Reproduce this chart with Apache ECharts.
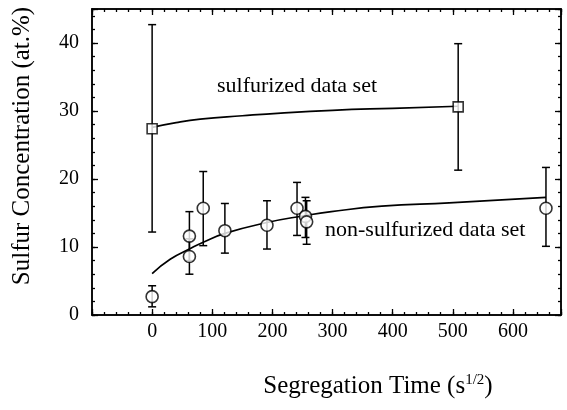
<!DOCTYPE html>
<html><head><meta charset="utf-8">
<script src="https://cdn.jsdelivr.net/npm/echarts@6/dist/echarts.min.js"></script>
<style>html,body{margin:0;padding:0;background:#fff}#c{width:567px;height:410px}</style>
</head><body><div id="c"></div>
<script>
// sulfurized data set
const sulfX = [0, 509];
const sulfY = [27.4, 30.6];
const sulfLo = [12.2, 21.3];
const sulfHi = [42.7, 39.9];
// non-sulfurized data set
const nonX = [0, 62, 62, 85, 121, 191, 241, 255, 257, 655];
const nonY = [2.7, 11.6, 8.6, 15.7, 12.4, 13.2, 15.7, 14.5, 13.7, 15.7];
const nonLo = [1.2, 8.0, 6.0, 10.2, 9.1, 9.7, 11.7, 11.4, 10.4, 10.1];
const nonHi = [4.3, 15.2, 11.2, 21.1, 16.4, 16.8, 19.5, 17.3, 16.8, 21.7];
// fitted curves
const sulfFitX = [0, 40, 80, 150, 214, 300, 400, 509];
const sulfFitY = [27.6, 28.3, 28.8, 29.3, 29.7, 30.1, 30.4, 30.7];
const nonFitX = [0, 30, 62, 85, 121, 191, 253, 298, 382, 494, 655];
const nonFitY = [6.1, 8.2, 9.7, 10.7, 12.0, 13.6, 14.6, 15.2, 16.0, 16.5, 17.3];
// axis ticks
const xTickLabels = [0, 100, 200, 300, 400, 500, 600];
const yTickLabels = [0, 10, 20, 30, 40];

const FONT = '"Liberation Serif","Times New Roman",serif';
const XMIN = -100, XMAX = 680, YMIN = 0, YMAX = 45;

function zip(a, b) { return a.map((v, i) => [v, b[i]]); }

function mkX(pos, interval, len, labels) {
  return {
    type: 'value', position: pos, min: XMIN, max: XMAX, interval: interval,
    axisLine: { show: true, onZero: false, lineStyle: { color: '#000', width: 1.5 } },
    axisTick: { show: true, inside: true, length: len, lineStyle: { color: '#000', width: 1.3 } },
    axisLabel: labels ? {
      show: true, color: '#000', fontFamily: FONT, fontSize: 20, margin: 7,
      formatter: v => xTickLabels.indexOf(v) >= 0 ? String(v) : ''
    } : { show: false },
    splitLine: { show: false }
  };
}
function mkY(pos, interval, len, labels) {
  return {
    type: 'value', position: pos, min: YMIN, max: YMAX, interval: interval,
    axisLine: { show: true, onZero: false, lineStyle: { color: '#000', width: 1.5 } },
    axisTick: { show: true, inside: true, length: len, lineStyle: { color: '#000', width: 1.3 } },
    axisLabel: labels ? {
      show: true, color: '#000', fontFamily: FONT, fontSize: 20, margin: 13,
      formatter: v => yTickLabels.indexOf(v) >= 0 ? String(v) : ''
    } : { show: false },
    splitLine: { show: false }
  };
}

function errSeries(xs, ys, lo, hi) {
  return {
    type: 'custom', xAxisIndex: 0, yAxisIndex: 0, z: 2,
    data: xs.map((x, i) => [x, lo[i], hi[i]]),
    renderItem: function (params, api) {
      const x = api.value(0);
      const p1 = api.coord([x, api.value(1)]);
      const p2 = api.coord([x, api.value(2)]);
      const w = 4;
      const st = { stroke: '#000', lineWidth: 1.5 };
      return { type: 'group', children: [
        { type: 'line', shape: { x1: p1[0], y1: p1[1], x2: p2[0], y2: p2[1] }, style: st },
        { type: 'line', shape: { x1: p1[0] - w, y1: p1[1], x2: p1[0] + w, y2: p1[1] }, style: st },
        { type: 'line', shape: { x1: p2[0] - w, y1: p2[1], x2: p2[0] + w, y2: p2[1] }, style: st }
      ] };
    }
  };
}

const chart = echarts.init(document.getElementById('c'), null, { renderer: 'canvas' });
chart.setOption({
  animation: false,
  backgroundColor: '#fff',
  grid: { left: 92, right: 6, top: 9, bottom: 95, containLabel: false },
  xAxis: [
    mkX('bottom', 100, 6, true),
    mkX('bottom', 20, 3, false),
    mkX('top', 100, 6, false),
    mkX('top', 20, 3, false)
  ],
  yAxis: [
    mkY('left', 10, 6, true),
    mkY('left', 2, 3, false),
    mkY('right', 10, 6, false),
    mkY('right', 2, 3, false)
  ],
  series: [
    errSeries(sulfX, sulfY, sulfLo, sulfHi),
    errSeries(nonX, nonY, nonLo, nonHi),
    { type: 'line', smooth: true, showSymbol: false, data: zip(sulfFitX, sulfFitY),
      lineStyle: { color: '#000', width: 1.7 }, z: 3 },
    { type: 'line', smooth: true, showSymbol: false, data: zip(nonFitX, nonFitY),
      lineStyle: { color: '#000', width: 1.7 }, z: 3 },
    { type: 'scatter', data: zip(sulfX, sulfY), symbol: 'rect', symbolSize: 10, z: 5,
      itemStyle: { color: '#fff', borderColor: '#000', borderWidth: 1.6 } },
    { type: 'scatter', data: zip(nonX, nonY), symbol: 'circle', symbolSize: 12, z: 5,
      itemStyle: { color: '#fff', borderColor: '#000', borderWidth: 1.6 } }
  ],
  graphic: [
    { type: 'text', left: 217, top: 75, style: { text: 'sulfurized data set', fontFamily: FONT, fontSize: 22, fill: '#000' } },
    { type: 'text', left: 325, top: 219, style: { text: 'non-sulfurized data set', fontFamily: FONT, fontSize: 22, fill: '#000' } },
    { type: 'text', x: 378, y: 386, style: {
        text: 'Segregation Time (s{sup|1/2})', fontFamily: FONT, fontSize: 25, fill: '#000',
        align: 'center', verticalAlign: 'middle',
        rich: { sup: { fontFamily: FONT, fontSize: 15, verticalAlign: 'top', padding: [0, 0, 12, 0], fill: '#000' } } } },
    { type: 'text', x: 22, y: 146, rotation: Math.PI / 2, style: {
        text: 'Sulfur Concentration (at.%)', fontFamily: FONT, fontSize: 25, fill: '#000',
        align: 'center', verticalAlign: 'middle' } }
  ]
});
</script></body></html>
